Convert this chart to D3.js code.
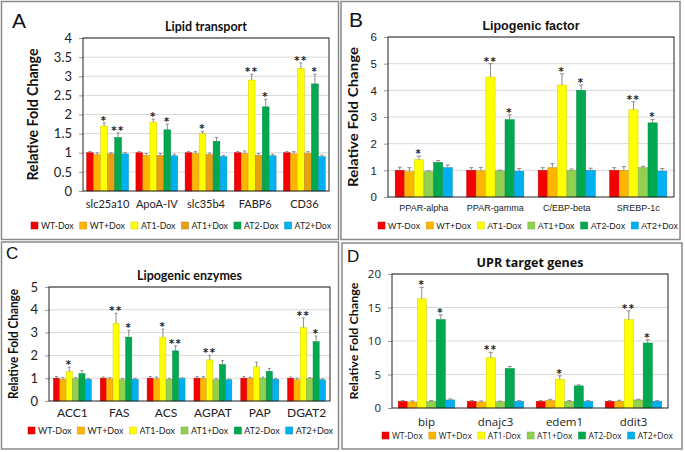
<!DOCTYPE html>
<html>
<head>
<meta charset="utf-8">
<script src="https://cdn.jsdelivr.net/npm/d3@7"></script>
<style>
  body { margin: 0; background: #fff; }
  svg { display: block; }
</style>
</head>
<body>
<svg id="chart" width="685" height="452"></svg>
<script>
// series shared by every panel
const series = ["WT-Dox", "WT+Dox", "AT1-Dox", "AT1+Dox", "AT2-Dox", "AT2+Dox"];
const colors = ["#f50000", "#ffb400", "#ffff00", "#92d050", "#00a850", "#00b0f0"];
const colorsA = ["#f50000", "#ffb400", "#ffff00", "#e6a010", "#00a850", "#00b0f0"];

// A - Lipid transport
const genesA = ["slc25a10", "ApoA-IV", "slc35b4", "FABP6", "CD36"];
const valuesA = [
  [1.0, 0.95, 1.7, 0.97, 1.4, 0.97],
  [1.0, 0.93, 1.8, 0.93, 1.6, 0.92],
  [1.0, 0.98, 1.5, 0.95, 1.3, 0.90],
  [1.0, 0.98, 2.9, 0.93, 2.2, 0.92],
  [1.0, 0.97, 3.2, 0.98, 2.8, 0.90]
];
const errorsA = [
  [0.03, 0.05, 0.08, 0.03, 0.12, 0.04],
  [0.03, 0.05, 0.08, 0.05, 0.15, 0.04],
  [0.03, 0.05, 0.06, 0.04, 0.10, 0.03],
  [0.03, 0.07, 0.15, 0.05, 0.20, 0.04],
  [0.03, 0.06, 0.15, 0.05, 0.25, 0.04]
];
const starsA = [
  ["", "", "*", "", "**", ""],
  ["", "", "*", "", "*", ""],
  ["", "", "*", "", "", ""],
  ["", "", "**", "", "*", ""],
  ["", "", "**", "", "*", ""]
];

// B - Lipogenic factor
const genesB = ["PPAR-alpha", "PPAR-gamma", "C/EBP-beta", "SREBP-1c"];
const valuesB = [
  [1.0, 0.95, 1.4, 0.95, 1.3, 1.1],
  [1.0, 0.98, 4.5, 0.98, 2.9, 0.97],
  [1.0, 1.1, 4.2, 1.0, 4.0, 1.0],
  [1.0, 1.0, 3.27, 1.1, 2.78, 0.97]
];
const errorsB = [
  [0.12, 0.15, 0.13, 0.03, 0.07, 0.10],
  [0.10, 0.13, 0.50, 0.03, 0.18, 0.10],
  [0.10, 0.15, 0.42, 0.05, 0.20, 0.08],
  [0.10, 0.14, 0.30, 0.05, 0.13, 0.10]
];
const starsB = [
  ["", "", "*", "", "", ""],
  ["", "", "**", "", "*", ""],
  ["", "", "*", "", "*", ""],
  ["", "", "**", "", "*", ""]
];

// C - Lipogenic enzymes
const genesC = ["ACC1", "FAS", "ACS", "AGPAT", "PAP", "DGAT2"];
const valuesC = [
  [1.0, 0.95, 1.3, 0.97, 1.2, 0.95],
  [1.0, 0.97, 3.4, 0.93, 2.8, 0.95],
  [1.0, 0.97, 2.8, 0.95, 2.2, 0.98],
  [1.0, 1.0, 1.8, 0.93, 1.6, 0.93],
  [1.0, 0.98, 1.5, 1.0, 1.3, 0.95],
  [1.0, 0.93, 3.22, 0.98, 2.6, 0.93]
];
const errorsC = [
  [0.07, 0.07, 0.18, 0.05, 0.13, 0.04],
  [0.05, 0.05, 0.45, 0.05, 0.30, 0.04],
  [0.07, 0.08, 0.35, 0.04, 0.22, 0.04],
  [0.07, 0.07, 0.20, 0.05, 0.17, 0.03],
  [0.07, 0.06, 0.20, 0.05, 0.13, 0.04],
  [0.05, 0.07, 0.42, 0.05, 0.25, 0.04]
];
const starsC = [
  ["", "", "*", "", "", ""],
  ["", "", "**", "", "*", ""],
  ["", "", "*", "", "**", ""],
  ["", "", "**", "", "", ""],
  ["", "", "", "", "", ""],
  ["", "", "**", "", "*", ""]
];

// D - UPR target genes
const genesD = ["bip", "dnajc3", "edem1", "ddit3"];
const valuesD = [
  [1.0, 0.9, 16.3, 1.0, 13.2, 1.2],
  [1.0, 0.9, 7.5, 0.93, 5.9, 1.0],
  [1.0, 1.1, 4.3, 1.0, 3.3, 1.0],
  [1.0, 1.0, 13.2, 1.2, 9.7, 1.0]
];
const errorsD = [
  [0.1, 0.15, 1.7, 0.1, 0.7, 0.15],
  [0.1, 0.15, 0.8, 0.1, 0.3, 0.1],
  [0.1, 0.2, 0.5, 0.1, 0.15, 0.1],
  [0.1, 0.15, 1.3, 0.1, 0.5, 0.1]
];
const starsD = [
  ["", "", "*", "", "*", ""],
  ["", "", "**", "", "", ""],
  ["", "", "*", "", "", ""],
  ["", "", "**", "", "*", ""]
];

const svg = d3.select("#chart");
const lato = "Lato, 'Open Sans', sans-serif";

const panels = [
  { letter: "A", letterPos: [12, 28, 21], title: "Lipid transport", genes: genesA, values: valuesA, errors: errorsA, stars: starsA,
    colors: colorsA, yMax: 4, yStep: 0.5,
    box: [1.5, 1.5, 337, 238], plot: [83, 38, 329, 191], pad: 0.14,
    font: lato, tickSize: 13, catSize: 11, titleSize: 12.5, yTitleSize: 14.5, yTitleX: 38, yTitleLen: 132,
    legend: [31, 331, 226], legSize: 11, catY: 208 },
  { letter: "B", letterPos: [349, 27, 21], title: "Lipogenic factor", genes: genesB, values: valuesB, errors: errorsB, stars: starsB,
    colors: colors, yMax: 6, yStep: 1,
    box: [341, 1.5, 339, 238], plot: [388, 37, 674, 197], pad: 0.19,
    font: "'Liberation Sans', Arial, sans-serif", tickSize: 11.5, catSize: 9, titleSize: 12.5, yTitleSize: 14, yTitleX: 358, yTitleLen: 140,
    legend: [378, 678, 226], legSize: 9.5, catY: 211 },
  { letter: "C", letterPos: [6, 259, 17], title: "Lipogenic enzymes", genes: genesC, values: valuesC, errors: errorsC, stars: starsC,
    colors: colors, yMax: 5, yStep: 1,
    box: [1.5, 242, 337, 207], plot: [49, 287, 330, 401], pad: 0.18,
    font: lato, tickSize: 13, catSize: 12, titleSize: 12.5, yTitleSize: 12.5, yTitleX: 18, yTitleLen: 110,
    legend: [28, 333, 431], legSize: 10.5, catY: 417 },
  { letter: "D", letterPos: [347, 262, 17], title: "UPR target genes", genes: genesD, values: valuesD, errors: errorsD, stars: starsD,
    colors: colors, yMax: 20, yStep: 5,
    box: [342, 243, 340, 206], plot: [392, 274, 668, 408], pad: 0.17,
    font: "'Open Sans', sans-serif", tickSize: 11.5, catSize: 11.5, titleSize: 12.5, yTitleSize: 12, yTitleX: 358, yTitleLen: 117,
    legend: [382, 673, 436], legSize: 9.5, catY: 426 }
];

panels.forEach(drawPanel);

function drawPanel(p) {
  const [bx, by, bw, bh] = p.box;
  const [l, t, r, b] = p.plot;
  const g = svg.append("g").style("font-family", p.font);

  // outer frame
  g.append("rect")
    .attr("x", bx).attr("y", by).attr("width", bw).attr("height", bh)
    .attr("fill", "none").attr("stroke", "#8a8a8a").attr("stroke-width", 1.5);

  const [lx, ly0, lsize] = p.letterPos;
  g.append("text")
    .attr("x", lx).attr("y", ly0)
    .attr("font-size", lsize).attr("fill", "#111")
    .style("font-family", "'Liberation Sans', Arial, sans-serif")
    .text(p.letter);

  g.append("text")
    .attr("x", (l + r) / 2).attr("y", t - 7)
    .attr("text-anchor", "middle").attr("font-weight", "bold")
    .attr("font-size", p.titleSize).attr("fill", "#111")
    .text(p.title);

  const x0 = d3.scaleBand().domain(p.genes).range([l, r]).paddingInner(p.pad).paddingOuter(p.pad / 2);
  const x1 = d3.scaleBand().domain(series).range([0, x0.bandwidth()]).padding(0.04);
  const y = d3.scaleLinear().domain([0, p.yMax]).range([b, t]);
  const ticks = d3.range(0, p.yMax + p.yStep / 2, p.yStep);

  // gridlines
  g.append("g").selectAll("line").data(ticks.slice(1)).join("line")
    .attr("x1", l).attr("x2", r)
    .attr("y1", d => y(d)).attr("y2", d => y(d))
    .attr("stroke", "#d9d9d9").attr("stroke-width", 1);

  // y axis
  const yAxis = g.append("g")
    .attr("transform", `translate(${l},0)`)
    .call(d3.axisLeft(y).tickValues(ticks).tickFormat(d3.format("")).tickSize(4).tickPadding(7));
  yAxis.select(".domain").remove();
  yAxis.selectAll("line").attr("stroke", "#999");
  yAxis.selectAll("text").attr("font-size", p.tickSize).attr("fill", "#222").style("font-family", p.font);

  g.append("text")
    .attr("transform", `translate(${p.yTitleX},${(t + b) / 2}) rotate(-90)`)
    .attr("text-anchor", "middle").attr("font-weight", "bold")
    .attr("font-size", p.yTitleSize).attr("fill", "#111")
    .attr("textLength", p.yTitleLen).attr("lengthAdjust", "spacingAndGlyphs")
    .style("font-family", lato)
    .text("Relative Fold Change");

  // bars
  const groups = g.append("g").selectAll("g").data(p.genes).join("g")
    .attr("transform", d => `translate(${x0(d)},0)`);

  groups.each(function(gene, gi) {
    const grp = d3.select(this);
    const rows = series.map((s, si) => ({
      s, si, v: p.values[gi][si], e: p.errors[gi][si], star: p.stars[gi][si]
    }));

    grp.selectAll("rect").data(rows).join("rect")
      .attr("x", d => x1(d.s))
      .attr("y", d => y(d.v))
      .attr("width", x1.bandwidth())
      .attr("height", d => b - y(d.v))
      .attr("fill", d => p.colors[d.si])
      .attr("stroke", d => d3.color(p.colors[d.si]).darker(0.6))
      .attr("stroke-width", 0.5);

    const cap = Math.max(3, x1.bandwidth() * 0.45);
    grp.selectAll("path.err").data(rows).join("path")
      .attr("class", "err")
      .attr("d", d => {
        const cx = x1(d.s) + x1.bandwidth() / 2;
        const yt = y(d.v + d.e);
        return `M${cx},${y(d.v)}V${yt}M${cx - cap / 2},${yt}H${cx + cap / 2}`;
      })
      .attr("fill", "none").attr("stroke", "#8c8c8c").attr("stroke-width", 1);

    grp.selectAll("text.star").data(rows.filter(d => d.star)).join("text")
      .attr("class", "star")
      .attr("x", d => x1(d.s) + x1.bandwidth() / 2)
      .attr("y", d => y(d.v + d.e) + 1)
      .attr("text-anchor", "middle")
      .attr("font-size", 10).attr("font-weight", "bold")
      .attr("letter-spacing", 1.5).attr("fill", "#222")
      .style("font-family", "'DejaVu Sans', sans-serif")
      .text(d => d.star);
  });

  // plot border
  g.append("rect")
    .attr("x", l).attr("y", t).attr("width", r - l).attr("height", b - t)
    .attr("fill", "none").attr("stroke", "#222").attr("stroke-width", 1);

  // category labels
  g.append("g").selectAll("text").data(p.genes).join("text")
    .attr("x", d => x0(d) + x0.bandwidth() / 2)
    .attr("y", p.catY)
    .attr("text-anchor", "middle")
    .attr("font-size", p.catSize).attr("fill", "#222")
    .text(d => d);

  // legend spread across the given width, font shrunk until it fits
  const [lx0, lx1, ly] = p.legend;
  const sw = 7, gap = 3, minSpace = 6;
  const leg = g.append("g");
  const items = leg.selectAll("g").data(series).join("g");
  items.append("rect")
    .attr("width", sw).attr("height", sw).attr("y", ly - sw / 2 - 0.5)
    .attr("fill", (d, i) => p.colors[i])
    .attr("stroke", (d, i) => d3.color(p.colors[i]).darker(0.6)).attr("stroke-width", 0.5);
  const labels = items.append("text")
    .attr("x", sw + gap).attr("y", ly)
    .attr("dy", "0.35em")
    .attr("font-size", p.legSize).attr("fill", "#222")
    .text(d => d);

  let textW = 0;
  labels.each(function() { textW += this.getComputedTextLength(); });
  const room = (lx1 - lx0) - series.length * (sw + gap) - minSpace * (series.length - 1);
  if (textW > room) {
    labels.attr("font-size", p.legSize * room / textW);
  }
  const widths = [];
  labels.each(function() { widths.push(sw + gap + this.getComputedTextLength()); });
  const spacing = (lx1 - lx0 - d3.sum(widths)) / (series.length - 1);
  let cx = lx0;
  items.each(function(d, i) {
    d3.select(this).attr("transform", `translate(${cx},0)`);
    cx += widths[i] + spacing;
  });
}
</script>
</body>
</html>
